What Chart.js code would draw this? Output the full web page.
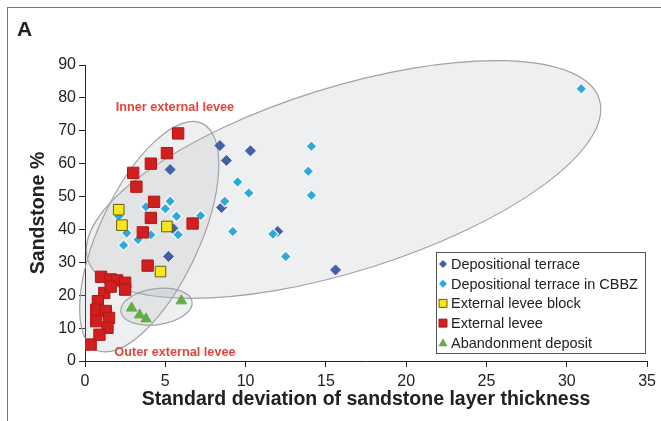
<!DOCTYPE html>
<html lang="en">
<head>
  <meta charset="UTF-8">
  <title>Sandstone % vs standard deviation of layer thickness</title>
  <script src="https://cdn.jsdelivr.net/npm/chart.js"></script>
  <style>
    body { margin: 0; background: #fff; }
    .wrap { position: relative; width: 661px; height: 421px; overflow: hidden; }
    /* thin frame of the original figure panel */
    .frame { position: absolute; left: 7px; top: 7px; width: 700px; height: 500px;
             border-left: 1px solid #777; border-top: 1px solid #777; pointer-events: none; }
  </style>
</head>
<body>
<div class="wrap">
  <canvas id="sandChart" width="661" height="421"></canvas>
  <div class="frame"></div>
</div>

<script>
  // [std dev of sandstone layer thickness, sandstone %]
  const terrace = [
    [5.3, 58.2], [8.4, 65.5], [8.8, 61.0], [10.3, 63.9], [8.5, 46.7],
    [5.2, 31.8], [5.5, 40.2], [12.0, 39.4], [15.6, 27.7]
  ];
  const terraceCBBZ = [
    [5.3, 48.6], [5.0, 46.3], [3.8, 46.9], [5.7, 44.0], [7.2, 44.2],
    [5.8, 38.4], [4.1, 38.4], [3.3, 36.9], [2.4, 35.2], [2.6, 38.9],
    [2.1, 44.0], [9.5, 54.4], [10.2, 51.1], [8.7, 48.6], [9.2, 39.4],
    [14.1, 65.3], [13.9, 57.7], [14.1, 50.4], [11.7, 38.6], [12.5, 31.8],
    [30.9, 82.8]
  ];
  const leveeBlock = [[2.1, 46.0], [2.3, 41.3], [5.1, 40.9], [4.7, 27.2]];
  const levee = [
    [5.8, 69.2], [5.1, 63.2], [4.1, 60.0], [3.0, 57.2], [3.2, 53.0],
    [4.3, 48.4], [4.1, 43.5], [3.6, 39.1], [6.7, 41.8], [3.9, 29.0],
    [1.0, 25.6], [1.6, 24.8], [2.0, 24.5], [2.5, 23.8], [2.5, 21.7],
    [1.2, 20.7], [1.6, 22.6], [0.8, 18.2], [0.7, 15.6], [1.3, 15.2],
    [1.5, 13.1], [0.7, 12.1], [1.4, 10.1], [0.9, 8.0], [0.35, 5.0]
  ];
  const abandonment = [[2.9, 16.1], [3.4, 14.0], [3.8, 12.8], [6.0, 18.3]];

  const xTicks = [0, 5, 10, 15, 20, 25, 30, 35];
  const yTicks = [0, 10, 20, 30, 40, 50, 60, 70, 80, 90];

  // hand drawn envelopes round the groups (centre in data units, radii in px)
  const envelopes = [
    { cx: 16.1, cy: 55.2, rx: 268, ry: 92, rot: -17.4 },
    { cx: 4.0, cy: 37.8, rx: 125, ry: 50, rot: -65 },
    { cx: 4.45, cy: 16.5, rx: 36, ry: 18, rot: -8 }
  ];
  const envelopeNotes = [
    { text: 'Inner external levee', x: 5.6, y: 77.0 },
    { text: 'Outer external levee', x: 5.6, y: 2.7 }
  ];

  const toPts = arr => arr.map(p => ({ x: p[0], y: p[1] }));

  const series = [
    { label: 'Depositional terrace', data: toPts(terrace), pointStyle: 'rectRot', pointRadius: 5,
      backgroundColor: '#4160aa', borderColor: '#4160aa', borderWidth: 1, order: 5 },
    { label: 'Depositional terrace in CBBZ', data: toPts(terraceCBBZ), pointStyle: 'rectRot', pointRadius: 5.5,
      backgroundColor: '#2ea7da', borderColor: 'rgba(255,255,255,0.8)', borderWidth: 1.5, order: 4 },
    { label: 'External levee block', data: toPts(leveeBlock), pointStyle: 'rect', pointRadius: 7.5,
      backgroundColor: '#f7e619', borderColor: '#6b5a10', borderWidth: 1, order: 2 },
    { label: 'External levee', data: toPts(levee), pointStyle: 'rect', pointRadius: 8,
      backgroundColor: '#cf1f1f', borderColor: '#b01818', borderWidth: 1, order: 3 },
    { label: 'Abandonment deposit', data: toPts(abandonment), pointStyle: 'triangle', pointRadius: 6,
      backgroundColor: '#63ad48', borderColor: '#63ad48', borderWidth: 1, order: 1 }
  ];

  // envelopes, their notes, legend box and panel letter
  const decorations = {
    id: 'decorations',
    beforeDatasetsDraw(chart) {
      const { ctx, scales: { x, y } } = chart;
      ctx.save();
      envelopes.forEach(e => {
        ctx.beginPath();
        ctx.ellipse(x.getPixelForValue(e.cx), y.getPixelForValue(e.cy), e.rx, e.ry,
                    e.rot * Math.PI / 180, 0, Math.PI * 2);
        ctx.fillStyle = 'rgba(170,176,182,0.2)';
        ctx.fill();
        ctx.strokeStyle = '#a2a2a2';
        ctx.lineWidth = 1.2;
        ctx.stroke();
      });
      ctx.restore();
    },
    afterDatasetsDraw(chart) {
      const { ctx, scales: { x, y } } = chart;
      ctx.save();
      ctx.fillStyle = '#e0463a';
      ctx.font = 'bold 12.7px Arial, "Liberation Sans", sans-serif';
      ctx.textAlign = 'center';
      ctx.textBaseline = 'middle';
      envelopeNotes.forEach(n => ctx.fillText(n.text, x.getPixelForValue(n.x), y.getPixelForValue(n.y)));

      // legend
      const bx = 436, by = 252, bw = 209, bh = 101;
      ctx.fillStyle = '#fff';
      ctx.fillRect(bx, by, bw, bh);
      ctx.strokeStyle = '#555';
      ctx.lineWidth = 1;
      ctx.strokeRect(bx + 0.5, by + 0.5, bw, bh);
      ctx.font = '14.5px Arial, "Liberation Sans", sans-serif';
      ctx.textAlign = 'left';
      series.forEach((s, i) => {
        const cy = by + 12 + i * 19.7;
        const mx = bx + 7;
        ctx.fillStyle = s.backgroundColor;
        ctx.beginPath();
        if (s.pointStyle === 'rectRot') {
          ctx.moveTo(mx, cy - 4); ctx.lineTo(mx + 4, cy); ctx.lineTo(mx, cy + 4); ctx.lineTo(mx - 4, cy);
        } else if (s.pointStyle === 'rect') {
          ctx.rect(mx - 4, cy - 4, 8, 8);
        } else {
          ctx.moveTo(mx, cy - 4.5); ctx.lineTo(mx + 4.5, cy + 3.5); ctx.lineTo(mx - 4.5, cy + 3.5);
        }
        ctx.closePath();
        ctx.fill();
        if (s.pointStyle === 'rect') {
          ctx.strokeStyle = s.borderColor;
          ctx.stroke();
        }
        ctx.fillStyle = '#222';
        ctx.fillText(s.label, bx + 15, cy + 1);
      });

      ctx.fillStyle = '#222';
      ctx.font = 'bold 21px Arial, "Liberation Sans", sans-serif';
      ctx.textBaseline = 'alphabetic';
      ctx.fillText('A', 17, 36);
      ctx.restore();
    }
  };

  const ctx = document.getElementById('sandChart').getContext('2d');
  new Chart(ctx, {
    type: 'scatter',
    data: { datasets: series },
    plugins: [decorations],
    options: {
      responsive: false,
      animation: false,
      devicePixelRatio: 1,
      layout: { padding: { left: 0, top: 65, right: 11, bottom: 0 } },
      plugins: { legend: { display: false }, tooltip: { enabled: false } },
      scales: {
        x: {
          type: 'linear', min: 0, max: 35,
          afterBuildTicks: axis => { axis.ticks = xTicks.map(v => ({ value: v })); },
          afterFit: axis => { axis.height = 60; },
          grid: { drawOnChartArea: false, drawTicks: true, tickLength: 6, color: '#222' },
          border: { color: '#222', width: 1 },
          ticks: { color: '#222', padding: 5, font: { family: 'Arial, "Liberation Sans", sans-serif', size: 16 } },
          title: { display: true, text: 'Standard deviation of sandstone layer thickness', color: '#222',
                   padding: { top: 0, bottom: 10 },
                   font: { family: 'Arial, "Liberation Sans", sans-serif', size: 19.5, weight: 'bold' } }
        },
        y: {
          type: 'linear', min: 0, max: 90,
          afterBuildTicks: axis => { axis.ticks = yTicks.map(v => ({ value: v })); },
          afterFit: axis => { axis.width = 85; },
          grid: { drawOnChartArea: false, drawTicks: true, tickLength: 6, color: '#222' },
          border: { color: '#222', width: 1 },
          ticks: { color: '#222', padding: 3, font: { family: 'Arial, "Liberation Sans", sans-serif', size: 16 } },
          title: { display: true, text: 'Sandstone %', color: '#222',
                   padding: { top: 27, bottom: 0 },
                   font: { family: 'Arial, "Liberation Sans", sans-serif', size: 19.5, weight: 'bold' } }
        }
      }
    }
  });
</script>
</body>
</html>
